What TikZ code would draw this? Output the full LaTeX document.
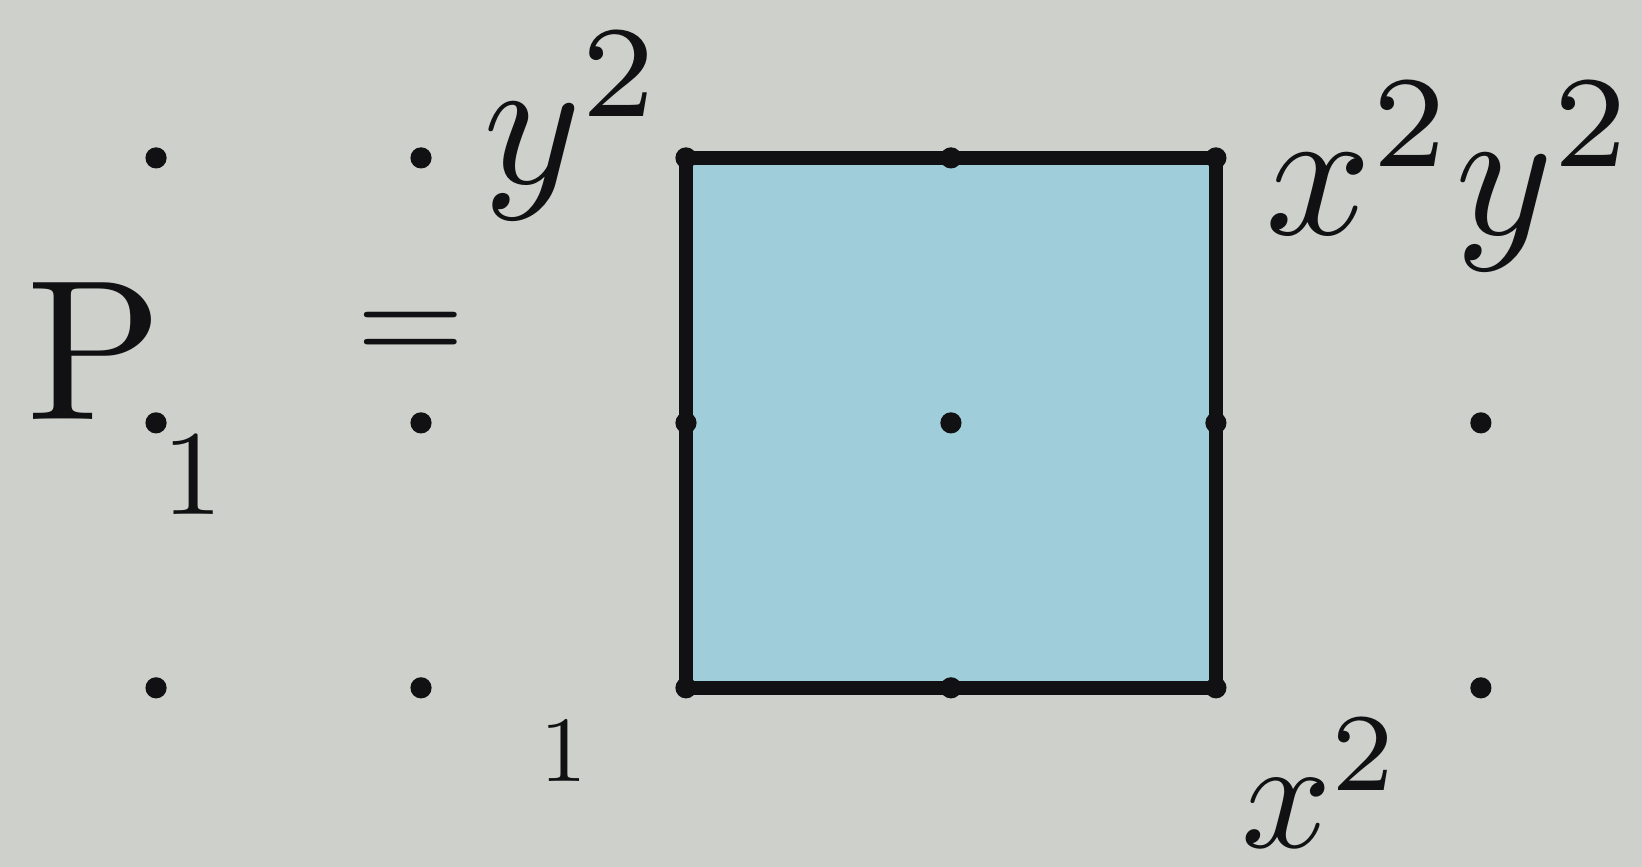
\documentclass[tikz,border=0pt]{standalone}
\definecolor{paper}{RGB}{206,208,203}
\definecolor{wash}{RGB}{160,205,218}
\definecolor{ink}{RGB}{17,17,20}
\tikzset{
	dot/.style={circle,fill=ink,inner sep=0pt,minimum size=0.16cm},
	lab/.style={text=ink,inner sep=0pt},
	rim/.style={draw=ink,line width=3pt,line join=round,fill=wash}
}
\begin{document}
\begin{tikzpicture}[x=2cm,y=2cm]
	\fill[paper] (-2.589,-0.675) rectangle (3.608,2.596);
	\useasboundingbox (-2.589,-0.675) rectangle (3.608,2.596);
	\foreach \i in {-2,...,3}
		\foreach \j in {0,1,2}
			\coordinate (d\i\j) at (\i,\j);
	\draw[rim] (d00) -- (d20) -- (d22) -- (d02) -- cycle;
	\foreach \i/\j in {-2/0,-1/0,0/0,1/0,2/0,3/0,-2/1,-1/1,0/1,1/1,2/1,3/1,-2/2,-1/2,0/2,1/2,2/2}
		\node[dot] (n\i\j) at (d\i\j) {};
	\node[lab,scale=4.3] (bigp) at (-2.23,1.27) {$\mathrm{P}$};
	\node[lab,scale=2.6] (sub) at (-1.86,0.8) {$1$};
	\node[lab,scale=3] (eq) at (-1.04,1.32) {$=$};
	\node[lab,scale=4] (ysq) at (-0.42,2.12) {$y^2$};
	\node[lab,scale=2] (one) at (-0.46,-0.24) {$1$};
	\node[lab,scale=3.4] (xsq) at (2.4,-0.36) {$x^2$};
	\node[lab,scale=4] (xysq) at (2.89,1.93) {$x^2y^2$};
\end{tikzpicture}
\end{document}
